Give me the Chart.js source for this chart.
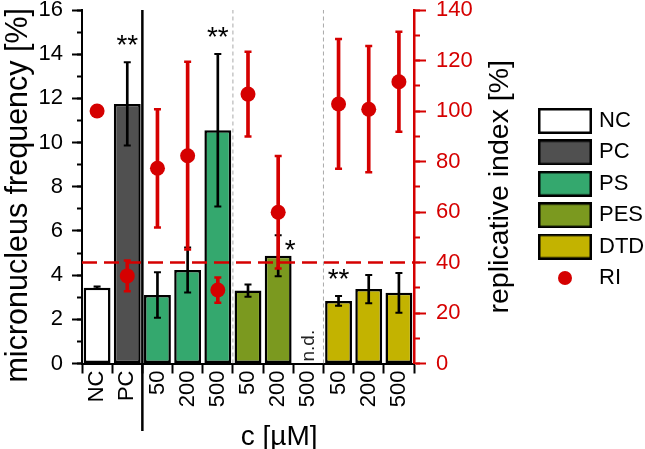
<!DOCTYPE html>
<html>
<head>
<meta charset="utf-8">
<script src="https://cdn.jsdelivr.net/npm/chart.js@4.4.1/dist/chart.umd.min.js"></script>
<style>
  html, body { margin: 0; padding: 0; background: #fff; }
</style>
</head>
<body>
<canvas id="chart" width="645" height="449"></canvas>
<script>
// x categories and the group each one belongs to
const labels = ['NC', 'PC', '50', '200', '500', '50', '200', '500', '50', '200', '500'];
const groupOf = [0, 1, 2, 2, 2, 3, 3, 3, 4, 4, 4];
const groups = ['NC', 'PC', 'PS', 'PES', 'DTD'];
const groupColors = ['#ffffff', '#505050', '#34a86e', '#7b991f', '#c3b300'];

// micronucleus frequency [%] (mean, sd)
const mnMean = [3.43, 11.75, 3.10, 4.23, 10.56, 3.30, 4.88, null, 2.83, 3.37, 3.20];
const mnSd = [0.05, 1.88, 1.03, 1.02, 3.45, 0.28, 0.93, null, 0.22, 0.64, 0.90];

// replicative index [%] (mean, sd)
const riMean = [100.0, 34.7, 77.3, 82.3, 29.1, 106.7, 59.9, null, 102.8, 100.7, 111.6];
const riSd = [0, 6.1, 23.4, 37.2, 5.0, 16.8, 22.3, null, 25.7, 25.0, 19.8];
const riLimit = 40;

// significance marks and not-determined labels per category
const sigMarks = ['', '**', '', '', '**', '', '*', '', '**', '', ''];
const ndMarks = ['', '', '', '', '', '', '', 'n.d.', '', '', ''];

// group boundaries (solid one splits controls from treatments)
const solidBoundaries = [2];
const dashedBoundaries = [5, 8];

const RED = '#d50000';
const FONT = '"Liberation Sans", Arial, sans-serif';
Chart.defaults.font.family = FONT;
Chart.defaults.color = '#000';

const barColors = groupOf.map(g => groupColors[g]);
const range = (m, s, k) => m.map((v, i) => v == null ? null : v + k * s[i]);
const spans = (m, s) => m.map((v, i) => v == null ? null : [v - s[i], v + s[i]]);

// legend icons
function boxIcon(fill) {
  const c = document.createElement('canvas');
  c.width = 54; c.height = 26;
  const g = c.getContext('2d');
  g.fillStyle = fill; g.fillRect(1, 1, 52, 24);
  g.strokeStyle = '#000'; g.lineWidth = 2.5; g.strokeRect(1.25, 1.25, 51.5, 23.5);
  return c;
}
function dotIcon(color) {
  const c = document.createElement('canvas');
  c.width = 16; c.height = 16;
  const g = c.getContext('2d');
  g.fillStyle = color; g.beginPath(); g.arc(8, 8, 7, 0, Math.PI * 2); g.fill();
  return c;
}
const legendItems = groups.map((g, i) => ({
  text: g, pointStyle: boxIcon(groupColors[i]), fillStyle: groupColors[i], strokeStyle: '#000', lineWidth: 0, hidden: false
})).concat([{ text: 'RI', pointStyle: dotIcon(RED), fillStyle: RED, strokeStyle: RED, lineWidth: 0, hidden: false }]);

// asterisks, n.d. and the right axis title
const annotations = {
  id: 'annotations',
  afterDatasetsDraw(chart) {
    const { ctx, chartArea, scales: { x, y } } = chart;
    ctx.save();
    ctx.fillStyle = '#000';
    ctx.font = '28px ' + FONT;
    ctx.textAlign = 'center';
    ctx.textBaseline = 'alphabetic';
    sigMarks.forEach((m, i) => {
      if (!m) return;
      const top = y.getPixelForValue(mnMean[i] + mnSd[i]);
      let px = x.getPixelForValue(i);
      let py = top - 8;
      if (i === 6) { px += 12; py = top + 24; } // beside the red bar
      ctx.fillText(m, px, py);
    });

    ctx.font = '19px ' + FONT;
    ctx.fillStyle = '#222';
    ndMarks.forEach((m, i) => {
      if (!m) return;
      ctx.save();
      ctx.translate(x.getPixelForValue(i), y.getPixelForValue(0) - 2);
      ctx.rotate(-Math.PI / 2);
      ctx.textAlign = 'left';
      ctx.textBaseline = 'middle';
      ctx.fillText(m, 0, 0);
      ctx.restore();
    });

    ctx.save();
    ctx.fillStyle = '#000';
    ctx.font = '28.5px ' + FONT;
    ctx.translate(500, (chartArea.top + chartArea.bottom) / 2);
    ctx.rotate(-Math.PI / 2);
    ctx.textAlign = 'center';
    ctx.textBaseline = 'middle';
    ctx.fillText('replicative index [%]', 0, 0);
    ctx.restore();
    ctx.restore();
  }
};

const vline = (xv, y0, y1, color, dash, width, clip) => ({
  type: 'line', xAxisID: 'xl', yAxisID: 'y',
  data: [{ x: xv, y: y0 }, { x: xv, y: y1 }],
  borderColor: color, borderWidth: width, borderDash: dash,
  pointRadius: 0, clip: clip, order: 9
});

const datasets = [
  {
    type: 'bar', label: 'micronucleus frequency', data: mnMean,
    backgroundColor: barColors, borderColor: '#000', borderWidth: 2.5, borderSkipped: false,
    grouped: false, barPercentage: 0.89, categoryPercentage: 1,
    xAxisID: 'x', yAxisID: 'y', order: 10
  },
  ...solidBoundaries.map(b => vline(b, -3.05, 16, '#000', [], 2.5, false)),
  ...dashedBoundaries.map(b => vline(b, 0, 16, '#aaaaaa', [4, 3], 1, true)),
  {
    type: 'bar', data: spans(mnMean, mnSd), backgroundColor: '#000', barThickness: 2,
    grouped: false, xAxisID: 'x', yAxisID: 'y', order: 8
  },
  {
    type: 'line', data: range(mnMean, mnSd, 1), showLine: false, pointStyle: 'line',
    pointRadius: 3.5, pointBorderWidth: 2, pointBorderColor: '#000', xAxisID: 'x', yAxisID: 'y', order: 7
  },
  {
    type: 'line', data: range(mnMean, mnSd, -1), showLine: false, pointStyle: 'line',
    pointRadius: 3.5, pointBorderWidth: 2, pointBorderColor: '#000', xAxisID: 'x', yAxisID: 'y', order: 7
  },
  {
    type: 'line', xAxisID: 'xl', yAxisID: 'y1',
    data: [{ x: 0, y: riLimit }, { x: labels.length, y: riLimit }],
    borderColor: RED, borderWidth: 2.5, borderDash: [15, 7], pointRadius: 0, order: 6
  },
  {
    type: 'bar', data: spans(riMean, riSd), backgroundColor: RED, barThickness: 3,
    grouped: false, xAxisID: 'x', yAxisID: 'y1', order: 5
  },
  {
    type: 'line', data: range(riMean, riSd, 1), showLine: false, pointStyle: 'line',
    pointRadius: 3.5, pointBorderWidth: 2.5, pointBorderColor: RED, xAxisID: 'x', yAxisID: 'y1', order: 4
  },
  {
    type: 'line', data: range(riMean, riSd, -1), showLine: false, pointStyle: 'line',
    pointRadius: 3.5, pointBorderWidth: 2.5, pointBorderColor: RED, xAxisID: 'x', yAxisID: 'y1', order: 4
  },
  {
    type: 'line', label: 'RI', data: riMean, showLine: false, pointStyle: 'circle',
    pointRadius: 7.5, pointBackgroundColor: RED, pointBorderWidth: 0, xAxisID: 'x', yAxisID: 'y1', order: 3
  }
];

new Chart(document.getElementById('chart'), {
  data: { labels: labels, datasets: datasets },
  plugins: [annotations],
  options: {
    responsive: false,
    animation: false,
    layout: { padding: { top: 10, left: 0, right: 0, bottom: 0 } },
    plugins: {
      tooltip: { enabled: false },
      legend: {
        position: 'right',
        align: 'start',
        maxWidth: 112.4,
        onClick: null,
        title: { display: true, text: '', font: { size: 10 }, padding: { top: 78.6, bottom: 0 } },
        labels: {
          usePointStyle: true,
          pointStyleWidth: 46,
          padding: 9.4,
          color: '#000',
          font: { size: 22 },
          generateLabels: () => legendItems
        }
      }
    },
    scales: {
      x: {
        type: 'category', position: 'bottom', offset: true,
        grid: { display: true, offset: true, drawOnChartArea: false, tickLength: 10, tickWidth: 2, tickColor: '#000' },
        border: { display: true, color: '#000', width: 2 },
        ticks: { autoSkip: false, maxRotation: 90, minRotation: 90, padding: -3, color: '#000', font: { size: 22 } },
        title: { display: true, text: '        c [µM]', color: '#000', font: { size: 28, lineHeight: 0.85 }, padding: 0 },
        afterFit: s => { s.height = 85.5; s.paddingLeft = 0; s.paddingRight = 0; }
      },
      xl: { type: 'linear', axis: 'x', display: false, min: 0, max: labels.length },
      y: {
        type: 'linear', axis: 'y', position: 'left', min: 0, max: 16, weight: 1,
        ticks: { stepSize: 2, padding: 9, color: '#000', font: { size: 22 } },
        grid: { drawOnChartArea: false, tickLength: 10, tickWidth: 2, tickColor: '#000' },
        border: { color: '#000', width: 2 },
        title: { display: true, text: 'micronucleus frequency [%]  ', color: '#000', font: { size: 30.5 }, padding: 0 },
        afterFit: s => { s.width = 82; s.paddingTop = 0; s.paddingBottom = 0; }
      },
      yMinor: {
        type: 'linear', axis: 'y', position: 'left', min: 0, max: 16, weight: 0,
        ticks: { display: false, stepSize: 1 },
        grid: { drawOnChartArea: false, tickLength: 5, tickWidth: 2, tickColor: '#000' },
        border: { display: false },
        afterFit: s => { s.width = 0; s.paddingTop = 0; s.paddingBottom = 0; }
      },
      y1: {
        type: 'linear', axis: 'y', position: 'right', min: 0, max: 140, weight: 1,
        ticks: { stepSize: 20, padding: 10, color: RED, font: { size: 22 } },
        grid: { drawOnChartArea: false, tickLength: 12, tickWidth: 2, tickColor: RED },
        border: { color: RED, width: 2.5 },
        afterFit: s => { s.width = 118.6; s.paddingTop = 0; s.paddingBottom = 0; }
      },
      y1Minor: {
        type: 'linear', axis: 'y', position: 'right', min: 0, max: 140, weight: 0,
        ticks: { display: false, stepSize: 10 },
        grid: { drawOnChartArea: false, tickLength: 6, tickWidth: 2, tickColor: RED },
        border: { display: false },
        afterFit: s => { s.width = 0; s.paddingTop = 0; s.paddingBottom = 0; }
      }
    }
  }
});
</script>
</body>
</html>
